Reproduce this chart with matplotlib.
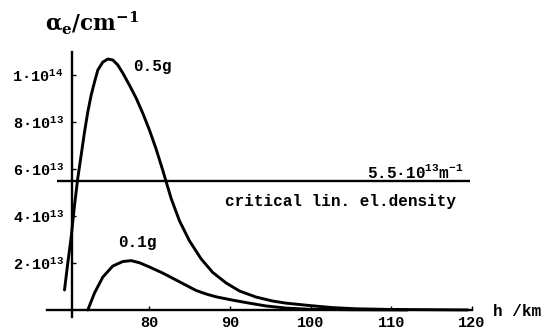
import matplotlib
matplotlib.use("Agg")
import matplotlib.pyplot as plt
import numpy as np

plt.rcParams['mathtext.fontset'] = 'custom'
plt.rcParams['mathtext.rm'] = 'Liberation Mono:bold'
plt.rcParams['mathtext.it'] = 'Liberation Mono:bold'
plt.rcParams['mathtext.bf'] = 'Liberation Mono:bold'
plt.rcParams['font.family'] = ['Liberation Mono', 'DejaVu Sans Mono']
plt.rcParams['font.weight'] = 'bold'

# Data (height in km, absorption in units of 1e13 cm^-1)
h_05 = [69.47, 69.88, 70.30, 70.71, 71.12, 71.54, 71.95, 72.36, 72.78, 73.19,
        73.60, 74.22, 74.84, 75.46, 76.07, 76.69, 77.52, 78.35, 79.17, 80.00,
        80.83, 81.65, 82.69, 83.72, 84.95, 86.40, 87.84, 89.50, 91.15,
        93.21, 95.27, 96.93, 99.80, 102.7, 105.6, 110.0, 115.0, 119.5]
v_05 = [0.85, 2.00, 3.11, 4.45, 5.62, 6.60, 7.57, 8.43, 9.15, 9.70,
        10.21, 10.55, 10.68, 10.64, 10.43, 10.09, 9.57, 9.02, 8.38, 7.66,
        6.85, 5.95, 4.75, 3.80, 2.95, 2.18, 1.60, 1.15, 0.81,
        0.55, 0.38, 0.29, 0.19, 0.10, 0.05, 0.02, 0.01, 0.0]
h_01 = [72.36, 73.19, 74.22, 75.46, 76.69, 77.73, 78.76, 80.00, 81.65, 83.72,
        85.78, 87.02, 88.26, 90.28, 92.38, 94.45, 96.93, 99.80, 105.0, 112.0]
v_01 = [0.0, 0.72, 1.40, 1.87, 2.06, 2.10, 2.01, 1.83, 1.57, 1.20,
        0.83, 0.68, 0.56, 0.42, 0.29, 0.17, 0.08, 0.03, 0.01, 0.0]
crit = 5.5
x_ticks = [80, 90, 100, 110, 120]
y_ticks = [2, 4, 6, 8, 10]
y_labels = ['$2\u00b710^{13}$', '$4\u00b710^{13}$', '$6\u00b710^{13}$',
            '$8\u00b710^{13}$', '$1\u00b710^{14}$']

scale = 1e13
fig = plt.figure(figsize=(5.45, 3.31), dpi=100)
ax = fig.add_axes([47/545, 14/331, 425/545, 265/331])
ax.set_xlim(67.3, 119.8)
ax.set_ylim(-0.3*scale, 10.98*scale)

ax.plot(h_05, np.array(v_05)*scale, color='black', lw=2.1,
        solid_capstyle='round', solid_joinstyle='round')
ax.plot(h_01, np.array(v_01)*scale, color='black', lw=2.1,
        solid_capstyle='round', solid_joinstyle='round')
ax.hlines(crit*scale, 68.5, 119.8, color='black', lw=1.7)

for s in ['top', 'right']:
    ax.spines[s].set_visible(False)
ax.spines['left'].set_position(('data', 70.4))
ax.spines['bottom'].set_position(('data', 0))
ax.spines['left'].set_linewidth(1.7)
ax.spines['bottom'].set_linewidth(1.7)

ax.set_xticks(x_ticks)
ax.set_xticklabels([str(t) for t in x_ticks])
ax.set_yticks([t*scale for t in y_ticks])
ax.set_yticklabels(y_labels)
ax.tick_params(axis='x', direction='in', length=3, width=1, pad=4, labelsize=11)
ax.tick_params(axis='y', direction='in', length=3, width=1, pad=6, labelsize=11)

fig.text(133/545, 1-67/331, '0.5g', fontsize=11.5, fontweight='bold', va='center')
fig.text(118/545, 1-242/331, '0.1g', fontsize=11.5, fontweight='bold', va='center')
fig.text(463/545, 1-172/331, '5.5$\u00b710^{13}$m$^{-1}$', fontsize=11.5,
         fontweight='bold', va='center', ha='right')
fig.text(225/545, 1-201/331, 'critical lin. el.density', fontsize=11.5,
         fontweight='bold', va='center', ha='left')
fig.text(45/545, 1-23/331, r'$\mathbf{\alpha_e/cm^{-1}}$', fontsize=15.5,
         math_fontfamily='dejavuserif', va='center', ha='left')
fig.text(493/545, 1-311/331, 'h /km', fontsize=11.5, fontweight='bold',
         va='center', ha='left')

fig.savefig('out.png', dpi=100)
